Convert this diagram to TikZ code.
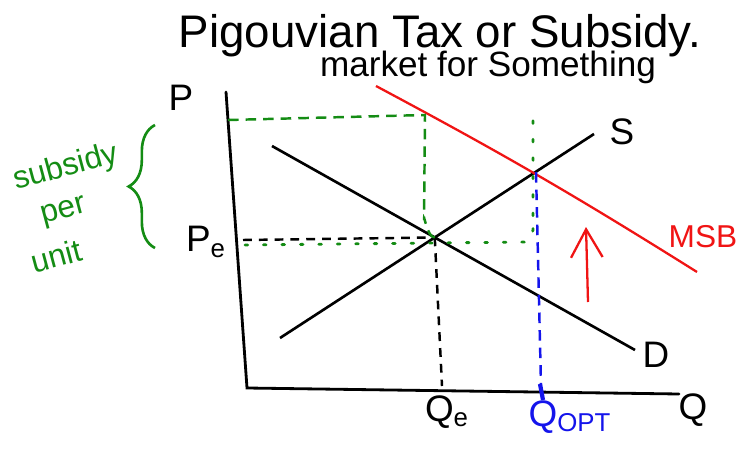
\documentclass[tikz,border=0pt]{standalone}
\usepackage{fontspec}
\setmainfont{Liberation Sans}
\usepackage{xcolor}
\usetikzlibrary{arrows.meta}
\usetikzlibrary{decorations.pathreplacing}
\definecolor{penred}{RGB}{240,20,20}
\definecolor{pengreen}{RGB}{20,140,20}
\definecolor{penblue}{RGB}{20,20,235}

\begin{document}
\begin{tikzpicture}[x=0.02cm, y=-0.02cm, curve/.style={draw, line width=1.5pt}, lbl/.style={font=\fontsize{21}{24}\selectfont}]
\tikzset{
        axis/.style={draw, line width=1.6pt, line cap=round},
        guide/.style={draw, line width=1.4pt, dash pattern=on 5pt off 4pt},
        dotguide/.style={draw, pengreen, line width=1.6pt, dash pattern=on 1.5pt off 9pt, line cap=round},
        greenguide/.style={draw, pengreen, line width=1.4pt, dash pattern=on 6pt off 4pt},
        sublbl/.style={pengreen, rotate=15, inner sep=0pt, font=\fontsize{18}{20}\selectfont},
    }
  \useasboundingbox (0,0) rectangle (740,456);
  \node (title) at (440,36) {\fontsize{26}{30}\selectfont Pigouvian Tax or Subsidy.};
  \node (market) at (488,67) {\fontsize{20}{22}\selectfont market for Something};
  % axes
  \coordinate (top) at (226,92);
  \coordinate (orig) at (247,388);
  \coordinate (right) at (679,394);
  \path[axis] (top) -- (orig) -- (right);
  \node[lbl] (plbl) at (181,98) {P};
  \node[lbl] (pelbl) at (206,242) {P\textsubscript{e}};
  \node[lbl] (qlbl) at (693,410) {Q};
  \node[lbl] (qelbl) at (447,412) {Q\textsubscript{e}};
  \node[lbl, penblue] (qoptlbl) at (570,417) {Q\textsubscript{OPT}};
  % curves
  \coordinate (s0) at (280,338);
  \coordinate (s1) at (594,134);
  \coordinate (d0) at (272,146);
  \coordinate (d1) at (635,350);
  \coordinate (m0) at (376,86);
  \coordinate (m1) at (697,272);
  \coordinate (eq) at (intersection of s0--s1 and d0--d1);
  \coordinate (opt) at (536,172);
  \path[curve] (s0) -- (s1);
  \path[curve] (d0) -- (d1);
  \path[curve, penred, line width=1.3pt] (m0) to[bend left=2] (m1);
  \node[lbl] (slbl) at (622,132) {S};
  \node[lbl] (dlbl) at (656,355) {D};
  \node[penred, font=\fontsize{18}{20}\selectfont] (msblbl) at (703,237) {MSB};
  % equilibrium
  \coordinate (pe) at (243,240);
  \coordinate (qe) at (442,386);
  \path[guide] (pe) -- (eq);
  \path[guide] (eq) -- (qe);
  % subsidy
  \coordinate (gtop) at (228,120);
  \coordinate (gcorner) at (425,115);
  \coordinate (gpe) at (245,245);
  \coordinate (gturn) at (527,242);
  \coordinate (gup) at (533,108);
  \path[greenguide] (gtop) -- (gcorner) -- (424,220) to[out=90,in=180] (eq);
  \path[dotguide] (gpe) -- (gturn) to[out=0,in=90] (533,222) -- (gup);
  \coordinate (qopt) at (541,386);
  \path[draw, penblue, line width=1.4pt, dash pattern=on 6pt off 4pt] (opt) -- (qopt);
  \path[draw, penblue, line width=2.4pt] (540,384) -- (543,400);
  \coordinate (b0) at (155,248);
  \coordinate (b1) at (155,125);
  \path[draw, pengreen, line width=1.5pt, decorate, decoration={brace, amplitude=15pt}] (b0) -- (b1);
  \node[sublbl] (sub1) at (66,168) {subsidy};
  \node[sublbl] (sub2) at (64,213) {per};
  \node[sublbl] (sub3) at (56,256) {unit};
  % arrow up
  \coordinate (a0) at (588,302);
  \coordinate (a1) at (586,227);
  \path[draw, penred, line width=1.3pt, -{Straight Barb[length=16pt, width=18pt]}] (a0) -- (a1);
\end{tikzpicture}
\end{document}
